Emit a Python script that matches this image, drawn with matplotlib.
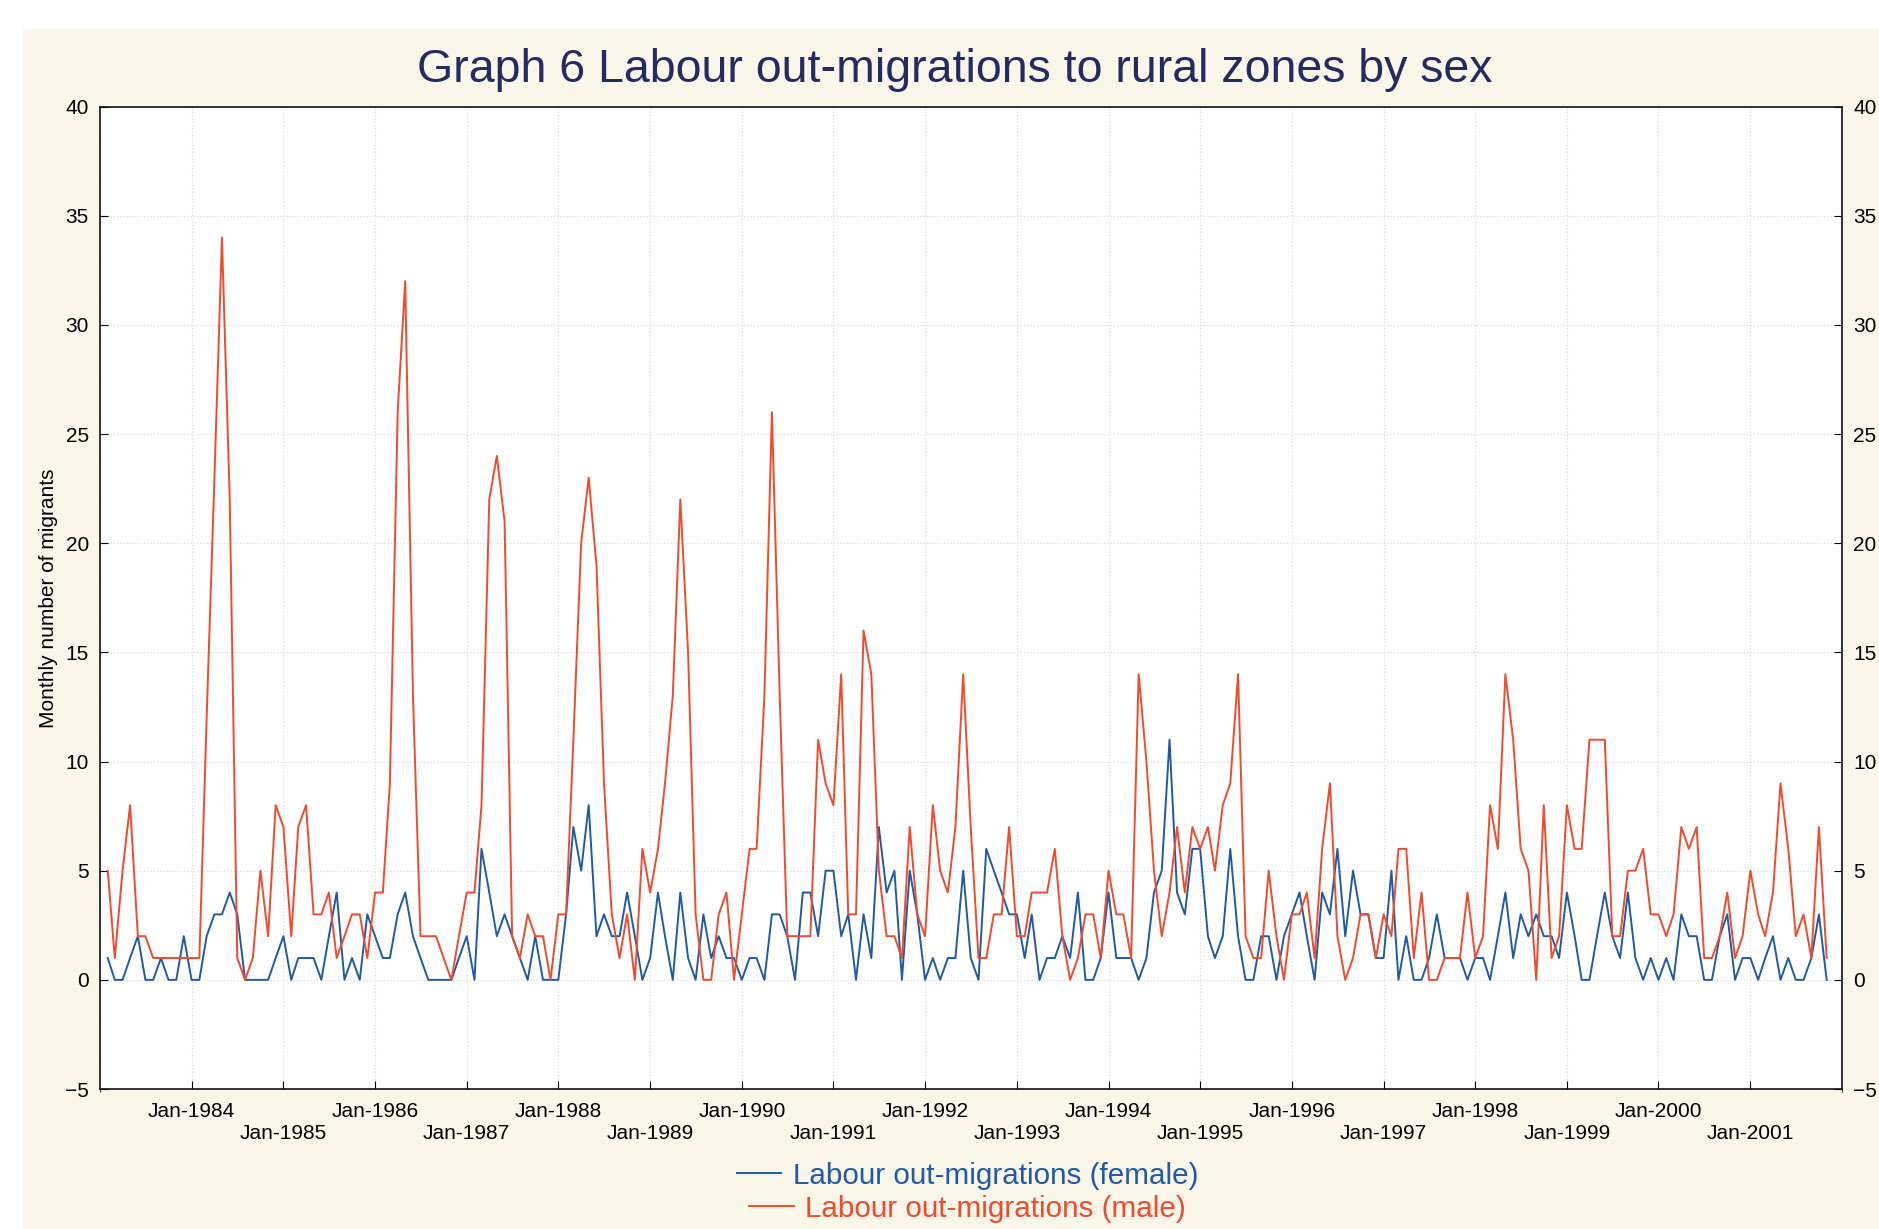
import numpy as np
import pandas as pd
import matplotlib as mplt
mplt.use("Agg")
import matplotlib.pyplot as plt
import matplotlib.dates as mdates
from matplotlib.patches import Rectangle

plt.rcParams["font.family"] = ["Liberation Sans", "DejaVu Sans"]

# monthly counts, Feb-1983 .. Nov-2001
start_month = "1983-02"
female = [
    1, 0, 0, 1, 2, 0, 0, 1, 0, 0, 2, 0, 0, 2, 3, 3, 4, 3, 0,
    0, 0, 0, 1, 2, 0, 1, 1, 1, 0, 2, 4, 0, 1, 0, 3, 2, 1, 1,
    3, 4, 2, 1, 0, 0, 0, 0, 1, 2, 0, 6, 4, 2, 3, 2, 1, 0, 2,
    0, 0, 0, 3, 7, 5, 8, 2, 3, 2, 2, 4, 2, 0, 1, 4, 2, 0, 4,
    1, 0, 3, 1, 2, 1, 1, 0, 1, 1, 0, 3, 3, 2, 0, 4, 4, 2, 5,
    5, 2, 3, 0, 3, 1, 7, 4, 5, 0, 5, 3, 0, 1, 0, 1, 1, 5, 1,
    0, 6, 5, 4, 3, 3, 1, 3, 0, 1, 1, 2, 1, 4, 0, 0, 1, 4, 1,
    1, 1, 0, 1, 4, 5, 11, 4, 3, 6, 6, 2, 1, 2, 6, 2, 0, 0, 2,
    2, 0, 2, 3, 4, 2, 0, 4, 3, 6, 2, 5, 3, 3, 1, 1, 5, 0, 2,
    0, 0, 1, 3, 1, 1, 1, 0, 1, 1, 0, 2, 4, 1, 3, 2, 3, 2, 2,
    1, 4, 2, 0, 0, 2, 4, 2, 1, 4, 1, 0, 1, 0, 1, 0, 3, 2, 2,
    0, 0, 2, 3, 0, 1, 1, 0, 1, 2, 0, 1, 0, 0, 1, 3, 0,
]
male = [
    5, 1, 5, 8, 2, 2, 1, 1, 1, 1, 1, 1, 1, 12, 23, 34, 22, 1, 0,
    1, 5, 2, 8, 7, 2, 7, 8, 3, 3, 4, 1, 2, 3, 3, 1, 4, 4, 9,
    26, 32, 13, 2, 2, 2, 1, 0, 2, 4, 4, 8, 22, 24, 21, 2, 1, 3, 2,
    2, 0, 3, 3, 11, 20, 23, 19, 9, 3, 1, 3, 0, 6, 4, 6, 9, 13, 22,
    15, 3, 0, 0, 3, 4, 0, 3, 6, 6, 13, 26, 13, 2, 2, 2, 2, 11, 9,
    8, 14, 3, 3, 16, 14, 5, 2, 2, 1, 7, 3, 2, 8, 5, 4, 7, 14, 7,
    1, 1, 3, 3, 7, 2, 2, 4, 4, 4, 6, 2, 0, 1, 3, 3, 1, 5, 3,
    3, 1, 14, 10, 5, 2, 4, 7, 4, 7, 6, 7, 5, 8, 9, 14, 2, 1, 1,
    5, 2, 0, 3, 3, 4, 1, 6, 9, 2, 0, 1, 3, 3, 1, 3, 2, 6, 6,
    1, 4, 0, 0, 1, 1, 1, 4, 1, 2, 8, 6, 14, 11, 6, 5, 0, 8, 1,
    2, 8, 6, 6, 11, 11, 11, 2, 2, 5, 5, 6, 3, 3, 2, 3, 7, 6, 7,
    1, 1, 2, 4, 1, 2, 5, 3, 2, 4, 9, 6, 2, 3, 1, 7, 1,
]
tick_years = list(range(1984, 2002))
y_ticks = [-5, 0, 5, 10, 15, 20, 25, 30, 35, 40]

blue = "#1f5aa8"
red = "#f24a2c"
navy = "#262a63"

months = pd.date_range(start_month, periods=len(male), freq="MS")

fig = plt.figure(figsize=(18.79, 12.29), dpi=100, facecolor="white")
fig.patches.append(Rectangle((0.012, 0.0), 0.988, 0.976, transform=fig.transFigure,
                             facecolor="#faf6ea", edgecolor="none", zorder=-10))
ax = fig.add_axes([0.0532, 0.1139, 0.9271, 0.7994])
ax.set_facecolor("white")

l_f, = ax.plot(months, female, color=blue, lw=1.4)
l_m, = ax.plot(months, male, color=red, lw=1.4)

ax.set_xlim(pd.Timestamp("1983-01-01"), pd.Timestamp("2002-01-01"))
ax.set_ylim(-5, 40)
ax.set_yticks(y_ticks)

# staggered year labels: even years on the first row, odd years one row lower
year_ticks = [pd.Timestamp(f"{y}-01-01") for y in tick_years]
ax.set_xticks(year_ticks)
ax.set_xticklabels([f"Jan-{y}" if (y % 2 == 0) else f"\nJan-{y}" for y in tick_years],
                   fontsize=15, linespacing=1.2)
ax.xaxis.set_minor_locator(mdates.YearLocator())

ax.tick_params(axis="y", direction="in", length=6, labelsize=15,
               left=True, right=True, labelleft=True, labelright=True, pad=8)
ax.tick_params(axis="x", direction="in", length=6, pad=9)

ax.grid(True, which="both", color="#d9d9d9", lw=0.8, ls=(0, (1, 2)))
for s in ax.spines.values():
    s.set_linewidth(1.2)
    s.set_color("#111111")

ax.set_ylabel("Monthly number of migrants", fontsize=15, labelpad=5)

fig.text(0.508, 0.943, "Graph 6 Labour out-migrations to rural zones by sex",
         ha="center", va="center", fontsize=33.5, color=navy)

# one centred legend row per series
for line, text, ypos in [(l_f, "Labour out-migrations (female)", 0.0435),
                         (l_m, "Labour out-migrations (male)", 0.0165)]:
    fig.legend([line], [text], loc="center", bbox_to_anchor=(0.515, ypos),
               frameon=False, fontsize=21.3, labelcolor="linecolor",
               handlelength=1.5, handletextpad=0.4, borderpad=0.0)

fig.savefig("out.png", dpi=100, facecolor=fig.get_facecolor())
